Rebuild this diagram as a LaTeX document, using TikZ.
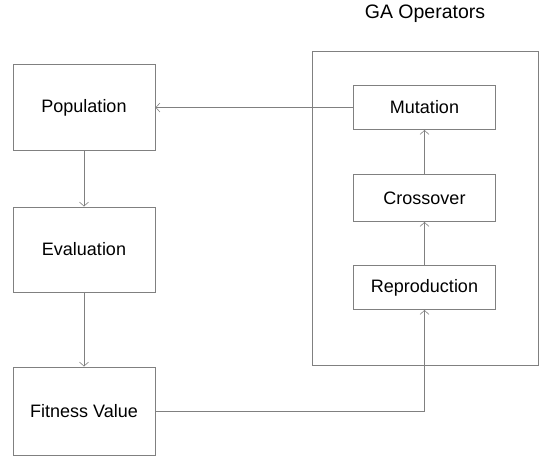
\documentclass[tikz,border=0pt]{standalone}
\usepackage{fontspec}
\setmainfont{Liberation Sans}
\usetikzlibrary{arrows.meta}
\begin{document}
\begin{tikzpicture}[x=1pt,y=-1pt,
    line width=1pt,
    box/.style={draw=black!50,minimum width=142pt,font=\fontsize{18}{21}\selectfont},
    link/.style={draw=black!50,-{Straight Barb[length=4pt,width=9pt,line width=0.6pt]}}]
  \useasboundingbox (0,0) rectangle (550,456);
  \node[font=\fontsize{19.5}{22}\selectfont] (title) at (425,14) {GA Operators};
  \node[draw=black!50,minimum width=226pt,minimum height=314pt] (ops) at (425,208.5) {};
  \node[box,minimum height=86pt] (pop) at (84,107.5) {Population};
  \node[box,minimum height=85pt] (eval) at (84,249.5) {Evaluation};
  \node[box,minimum height=88pt] (fit) at (84,411) {Fitness Value};
  \node[box,minimum height=44pt] (mut) at (424.5,107.5) {Mutation};
  \node[box,minimum height=47pt] (cross) at (424.5,198) {Crossover};
  \node[box,minimum height=44pt] (repro) at (424.5,287.5) {Reproduction};
  \draw[link] (pop) -- (eval);
  \draw[link] (eval) -- (fit);
  \draw[link] (fit.east) -| (repro.south);
  \draw[link] (repro) -- (cross);
  \draw[link] (cross) -- (mut);
  \draw[link] (mut) -- (pop);
\end{tikzpicture}
\end{document}
